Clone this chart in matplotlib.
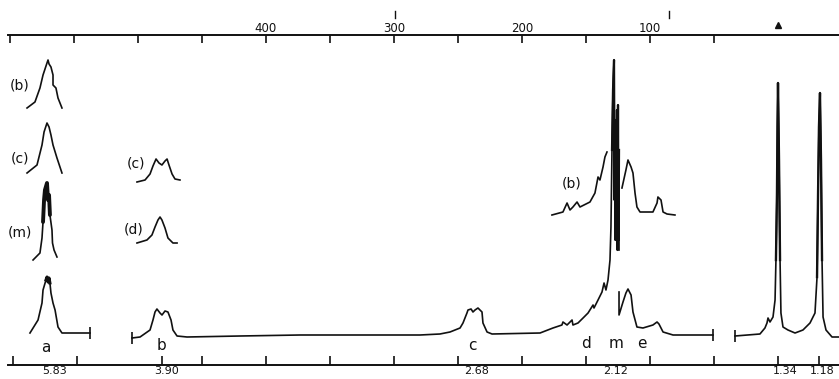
import matplotlib
matplotlib.use("Agg")
import matplotlib.pyplot as plt

plt.rcParams['font.family'] = ['DejaVu Sans']
INK = '#111111'

# ---------------- scales ----------------
top_ticks_hz = list(range(50, 601, 50))
top_labelled = {100: "100", 200: "200", 300: "300", 400: "400"}
bottom_ticks_hz = [598, 548, 481.25, 450, 400, 350, 300, 250, 200, 150, 100, 50, 0, -32]
shift_pos_hz = [564.8, 477.3, 235.2, 126.6, -5.5, -34.4]
shift_labels = ["5.83", "3.90", "2.68", "2.12", "1.34", "1.18"]

# ---------------- main spectrum (Hz, intensity) ----------------
seg_a_x = [584.4, 578.1, 575.0, 574.2, 571.9, 571.1, 570.3, 569.5, 568.8, 568.0, 566.4, 564.8, 562.5, 559.4, 537.5]
seg_a_y = [32, 45, 62, 75, 85, 88, 83, 87, 82, 72, 62, 55, 38, 32, 32]

seg_b_x = [504.7, 498.4, 490.6, 488.3, 486.7, 485.2, 482.8, 481.25, 478.9, 476.6, 474.2, 472.7, 469.5, 461.7,
           420.3, 373.4, 310.9, 279.7, 264.1, 256.25, 248.4, 246.1, 243.0, 242.2, 239.8, 238.3, 236.7, 234.4,
           231.25, 230.5, 227.3, 223.4, 185.9, 175.8, 168.8, 168.0, 164.8, 160.9, 160.2, 156.25, 152.3, 148.4,
           144.5, 143.75, 140.6, 137.5, 135.9, 134.4, 132.8, 131.25, 130.5, 129.7, 128.9, 128.1, 127.7, 127.3,
           127.0, 126.6, 126.2, 125.8, 125.4, 125.0, 124.6, 124.2, 124.2]
seg_b_y = [27, 28, 35, 45, 53, 56, 52, 50, 54, 53, 45, 35, 29, 28,
           29, 30, 30, 30, 31, 33, 37, 42, 52, 55, 56, 53, 55, 57,
           53, 42, 33, 31, 32, 37, 40, 43, 40, 45, 40, 42, 47, 52,
           60, 57, 65, 73, 82, 75, 85, 105, 138, 215, 275, 305, 165, 245,
           125, 225, 135, 255, 115, 260, 125, 215, 115]

seg_m_x = [124.2, 124.2, 121.1, 118.8, 117.2, 114.8, 113.3, 110.2, 105.5, 97.7, 94.5, 93.0, 89.8, 82.0, 50.8]
seg_m_y = [73, 50, 63, 72, 76, 70, 53, 38, 37, 40, 43, 41, 33, 30, 30]

seg_r_x = [33.6, 14.1, 10.2, 8.6, 7.8, 6.25, 3.9, 2.3, 1.6, 0.8, 0.4, 0.0, -0.8, -1.6, -2.3, -3.9, -7.8,
           -13.3, -19.5, -25.0, -28.9, -30.5, -31.3, -32.0, -32.8, -33.6, -34.4, -35.2, -37.5, -42.2, -47.7]
seg_r_y = [29, 31, 37, 42, 47, 43, 48, 65, 105, 172, 238, 282, 205, 105, 52, 38, 35,
           32, 35, 42, 52, 88, 172, 238, 272, 205, 105, 48, 35, 28, 28]

# ---------------- expanded insets ----------------
ins_ab_x = [586.7, 580.5, 576.6, 574.2, 571.1, 570.3, 569.5, 568.0, 566.4, 566.4, 564.1, 562.5, 559.4]
ins_ab_y = [257, 263, 277, 290, 302, 305, 301, 298, 290, 280, 277, 267, 257]
ins_ac_x = [586.7, 578.9, 575.0, 573.4, 571.1, 569.5, 568.0, 566.4, 563.3, 559.4]
ins_ac_y = [192, 200, 220, 233, 242, 238, 230, 220, 207, 192]
ins_am_x = [582.0, 576.6, 575.0, 574.2, 573.4, 572.7, 571.1, 570.3, 569.5, 568.8, 567.2, 566.8, 565.6, 563.3]
ins_am_y = [105, 112, 127, 143, 165, 175, 182, 165, 170, 150, 135, 122, 115, 108]
ins_bc_x = [500.8, 494.5, 490.6, 488.3, 485.9, 483.6, 481.3, 478.9, 477.3, 475.8, 473.4, 471.1, 467.2]
ins_bc_y = [183, 185, 191, 199, 206, 202, 200, 204, 206, 200, 191, 186, 185]
ins_bd_x = [500.8, 493.0, 489.1, 486.7, 484.4, 482.8, 481.3, 478.9, 476.6, 472.7, 469.5]
ins_bd_y = [122, 125, 130, 138, 145, 148, 145, 137, 127, 122, 122]
ins_mb1_x = [176.6, 168.0, 164.8, 162.5, 160.2, 157.0, 154.7, 146.9, 143.0, 140.6, 139.1, 136.7, 135.2, 133.6]
ins_mb1_y = [150, 153, 162, 155, 158, 163, 158, 163, 172, 188, 185, 198, 208, 213]
ins_mb2_x = [121.9, 118.8, 117.2, 114.8, 113.3, 111.7, 110.2, 107.8, 97.7, 94.5, 93.8, 91.4, 89.8, 86.7, 80.5]
ins_mb2_y = [177, 195, 205, 198, 192, 172, 158, 153, 153, 162, 168, 165, 153, 151, 150]

inset_labels = ["(b)", "(c)", "(m)", "(c)", "(d)", "(b)"]
inset_label_x = [592.2, 592.2, 592.2, 501.5, 503.5, 160.9]
inset_label_y = [280, 207, 133, 202, 136, 182]

peak_letters = ["a", "b", "c", "d", "m", "e"]
peak_letter_x = [571.9, 482.0, 239.1, 150.0, 126.6, 106.3]
peak_letter_y = [17, 20, 20, 21, 21, 21]

tms_hz = 0
marks_hz = [299.2, 85.2]

# ---------------- figure ----------------
fig = plt.figure(figsize=(8.39, 3.79), dpi=100)
ax = fig.add_axes([8 / 839, 14 / 379, 831 / 839, 330 / 379])
ax.set_xlim(601.5625, -47.66)
ax.set_ylim(0, 330)

lw = 1.2
for xs, ys in [(seg_a_x, seg_a_y), (seg_b_x, seg_b_y), (seg_m_x, seg_m_y), (seg_r_x, seg_r_y),
               (ins_ab_x, ins_ab_y), (ins_ac_x, ins_ac_y), (ins_am_x, ins_am_y),
               (ins_bc_x, ins_bc_y), (ins_bd_x, ins_bd_y), (ins_mb1_x, ins_mb1_y), (ins_mb2_x, ins_mb2_y)]:
    ax.plot(xs, ys, color=INK, lw=lw, solid_joinstyle='round', clip_on=False)

# thicker dark parts
ax.plot(ins_am_x[3:10], ins_am_y[3:10], color=INK, lw=2.8, solid_capstyle='round')
ax.plot(seg_a_x[4:9], seg_a_y[4:9], color=INK, lw=2.2)
ax.plot(seg_b_x[51:64], seg_b_y[51:64], color=INK, lw=1.6)
ax.plot(seg_r_x[8:14], seg_r_y[8:14], color=INK, lw=1.7)
ax.plot(seg_r_x[21:27], seg_r_y[21:27], color=INK, lw=1.7)

# break markers at section ends
for xs, ys in [(seg_a_x[-1:], seg_a_y[-1:]), (seg_b_x[:1], seg_b_y[:1]),
               (seg_m_x[-1:], seg_m_y[-1:]), (seg_r_x[:1], seg_r_y[:1])]:
    ax.plot(xs, ys, marker='|', ms=9, mew=1.2, color=INK, ls='none')

for t, x, y in zip(inset_labels, inset_label_x, inset_label_y):
    ax.text(x, y, t, fontsize=10, ha='center', va='center', color=INK)
for t, x, y in zip(peak_letters, peak_letter_x, peak_letter_y):
    ax.text(x, y, t, fontsize=11, ha='center', va='center', color=INK)

# reference markers above the top scale
ax.plot([tms_hz], [340], marker='^', ms=5, color=INK, clip_on=False, ls='none')
for m in marks_hz:
    ax.plot([m, m], [347, 354], color=INK, lw=1.0, clip_on=False)

# bottom scale
for s in ['left', 'right', 'top']:
    ax.spines[s].set_visible(False)
ax.spines['bottom'].set_linewidth(1.4)
ax.spines['bottom'].set_color(INK)
ax.set_yticks([])
ax.set_xticks(bottom_ticks_hz, labels=[""] * len(bottom_ticks_hz))
ax.set_xticks(shift_pos_hz, labels=shift_labels, minor=True)
ax.tick_params(axis='x', which='major', direction='in', length=6.5, width=1.2, color=INK)
ax.tick_params(axis='x', which='minor', length=0, pad=0.5, labelsize=8, labelcolor=INK)

# top scale
sec = ax.secondary_xaxis('top')
sec.set_xticks(top_ticks_hz, labels=[top_labelled.get(t, "") for t in top_ticks_hz])
sec.tick_params(axis='x', direction='in', length=6, width=1.2, pad=0, labelsize=8.5, color=INK, labelcolor=INK)
sec.spines['top'].set_linewidth(1.4)
sec.spines['top'].set_color(INK)

fig.savefig("out.png", dpi=100, facecolor='white')
